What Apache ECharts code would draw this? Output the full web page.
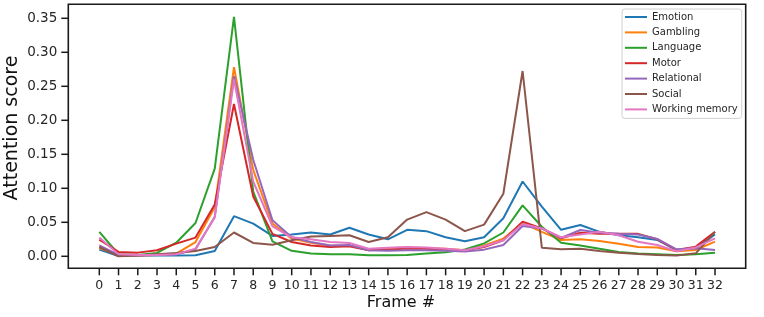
<!DOCTYPE html>
<html>
<head>
<meta charset="utf-8">
<script src="https://cdn.jsdelivr.net/npm/echarts@6/dist/echarts.min.js"></script>
<style>html,body{margin:0;padding:0;background:#fff}#c{width:764px;height:317px}</style>
</head>
<body>
<div id="c"></div>
<script>
var frames = [0,1,2,3,4,5,6,7,8,9,10,11,12,13,14,15,16,17,18,19,20,21,22,23,24,25,26,27,28,29,30,31,32];
var yTicks = [0,0.05,0.10,0.15,0.20,0.25,0.30,0.35];
var seriesNames = ['Emotion','Gambling','Language','Motor','Relational','Social','Working memory'];
var emotion = [0.010,0.0005,0.001,0.001,0.001,0.0015,0.0078,0.059,0.048,0.030,0.032,0.035,0.032,0.042,0.032,0.025,0.039,0.037,0.028,0.022,0.028,0.056,0.110,0.073,0.039,0.046,0.036,0.031,0.028,0.024,0.009,0.012,0.032];
var gambling = [0.012,0.002,0.001,0.002,0.004,0.021,0.072,0.278,0.127,0.048,0.026,0.020,0.016,0.015,0.010,0.012,0.013,0.012,0.011,0.009,0.016,0.026,0.049,0.036,0.024,0.025,0.0225,0.0186,0.0137,0.013,0.0075,0.0093,0.0215];
var language = [0.036,0.003,0.002,0.005,0.020,0.049,0.129,0.352,0.095,0.022,0.008,0.004,0.003,0.003,0.0015,0.0015,0.002,0.004,0.006,0.010,0.019,0.035,0.075,0.0435,0.020,0.016,0.011,0.0065,0.004,0.003,0.002,0.003,0.0053];
var motor = [0.0245,0.0064,0.0054,0.0088,0.0186,0.0275,0.076,0.224,0.088,0.033,0.021,0.016,0.0137,0.0147,0.0088,0.0098,0.0113,0.011,0.0098,0.0088,0.0137,0.0235,0.051,0.041,0.0265,0.0347,0.033,0.033,0.033,0.025,0.0093,0.0142,0.036];
var relational = [0.016,0.002,0.001,0.002,0.003,0.010,0.058,0.265,0.142,0.053,0.028,0.021,0.016,0.0167,0.0088,0.008,0.0088,0.0088,0.008,0.0069,0.0098,0.0166,0.0446,0.041,0.027,0.0387,0.0345,0.033,0.032,0.0255,0.0103,0.012,0.0093];
var social = [0.0137,0.0,0.001,0.003,0.005,0.0078,0.0137,0.035,0.0196,0.017,0.0235,0.029,0.030,0.031,0.021,0.028,0.054,0.065,0.054,0.037,0.0466,0.092,0.2725,0.0127,0.0103,0.011,0.0078,0.0053,0.0034,0.002,0.001,0.0044,0.036];
var workingMemory = [0.0275,0.003,0.002,0.002,0.003,0.0113,0.057,0.260,0.110,0.044,0.028,0.025,0.021,0.0196,0.011,0.0127,0.0137,0.013,0.011,0.0088,0.0147,0.0235,0.0475,0.041,0.028,0.032,0.036,0.031,0.0215,0.0166,0.0075,0.013,0.0265];
var colors = ['#1f77b4','#ff7f0e','#2ca02c','#d62728','#9467bd','#8c564b','#e377c2'];
var values = [emotion,gambling,language,motor,relational,social,workingMemory];

var chart = echarts.init(document.getElementById('c'), null, {renderer:'canvas'});
var font = 'DejaVu Sans';
var frameBox = {x:68.3, y:4.3, width:677.4, height:264};
var series = seriesNames.map(function(n,i){
  return {
    name:n, type:'line', showSymbol:false, symbol:'none', clip:false,
    data: frames.map(function(f,j){return [f, values[i][j]];}),
    lineStyle:{width:2, color:colors[i]}, itemStyle:{color:colors[i]},
    emphasis:{disabled:true}, animation:false
  };
});
var baseGraphics = [{
  type:'rect', id:'frame', z:-1, shape:frameBox,
  style:{fill:null, stroke:'#1a1a1a', lineWidth:1.6}
},{
  type:'text', id:'ytitle', x:12, y:128, rotation:Math.PI/2,
  style:{text:'Attention score', fontFamily:font, fontSize:19, fill:'#111', align:'center', verticalAlign:'middle'}
},{
  type:'text', id:'xtitle', x:401, y:303,
  style:{text:'Frame #', fontFamily:font, fontSize:16, fill:'#111', align:'center', verticalAlign:'middle'}
}];
chart.setOption({
  animation:false,
  grid:{left:99.3, right:49, top:18.3, bottom:60.7, show:false, outerBoundsMode:'none'},
  legend:{
    orient:'vertical', left:622, top:9, icon:'rect', itemWidth:22, itemHeight:2, itemGap:3.4,
    padding:[2,4,3,3], borderColor:'#d0d0d0', borderWidth:1, borderRadius:3, backgroundColor:'rgba(255,255,255,0.8)',
    textStyle:{fontFamily:font, fontSize:10, color:'#262626', lineHeight:12},
    data:seriesNames
  },
  graphic:baseGraphics,
  xAxis:{
    type:'value', min:0, max:32, interval:1, offset:12,
    axisLine:{show:false, onZero:false}, splitLine:{show:false}, axisTick:{show:false},
    axisLabel:{fontFamily:font, fontSize:12.5, color:'#262626', margin:11, showMinLabel:true, showMaxLabel:true, hideOverlap:false, formatter:function(v){return String(v);}}
  },
  yAxis:{
    type:'value', min:0, max:0.35, interval:0.05, offset:31,
    axisLine:{show:false, onZero:false}, splitLine:{show:false}, axisTick:{show:false},
    axisLabel:{fontFamily:font, fontSize:13.5, color:'#262626', margin:11, showMinLabel:true, showMaxLabel:true, formatter:function(v){return v.toFixed(2);}}
  },
  series:series
});
// tick marks placed through the chart's own axis scales
var tickLen = 7, tickStyle = {stroke:'#1a1a1a', lineWidth:1.5};
var bottomY = frameBox.y + frameBox.height, leftX = frameBox.x;
var tickGraphics = [];
frames.forEach(function(f, k){
  var px = chart.convertToPixel({xAxisIndex:0}, f);
  tickGraphics.push({type:'line', id:'xt'+k, silent:true, shape:{x1:px, y1:bottomY, x2:px, y2:bottomY + tickLen}, style:tickStyle});
});
yTicks.forEach(function(v, k){
  var py = chart.convertToPixel({yAxisIndex:0}, v);
  tickGraphics.push({type:'line', id:'yt'+k, silent:true, shape:{x1:leftX - tickLen, y1:py, x2:leftX, y2:py}, style:tickStyle});
});
chart.setOption({graphic:baseGraphics.concat(tickGraphics)});
</script>
</body>
</html>
